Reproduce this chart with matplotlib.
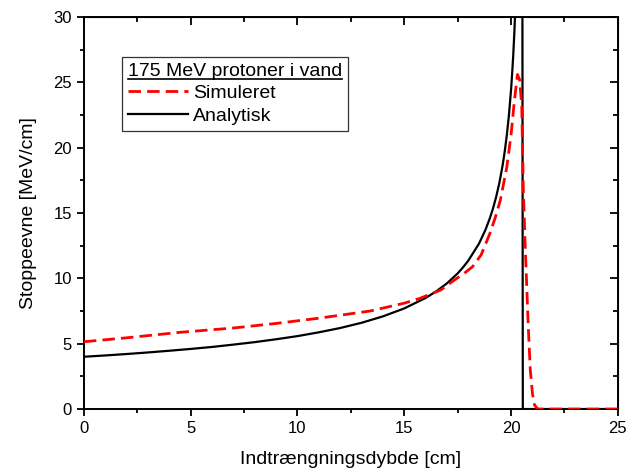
import matplotlib
matplotlib.use("Agg")
import matplotlib.pyplot as plt
from matplotlib.ticker import MultipleLocator
from matplotlib.lines import Line2D

plt.rcParams['font.family'] = ['Liberation Sans', 'DejaVu Sans']

# Simuleret stoppeevne (red dashed)
sim_x = [0, 2, 4.5, 7, 9, 11, 13.4, 15, 15.7, 16.7, 17.2, 17.9, 18.2, 18.6,
         19.0, 19.25, 19.5, 19.8, 20.0, 20.15, 20.3, 20.4, 20.5, 20.57, 20.65,
         20.72, 20.8, 20.9, 21.0, 21.1, 21.25, 25]
sim_y = [5.15, 5.45, 5.87, 6.2, 6.55, 6.95, 7.5, 8.1, 8.45, 9.1, 9.7, 10.5,
         10.9, 11.8, 13.4, 14.6, 16.0, 18.5, 21.0, 23.5, 25.6, 25.2, 23.2,
         17.0, 13.0, 10.0, 6.5, 3.0, 1.2, 0.3, 0.0, 0.0]

# Analytisk stoppeevne (black)
ana_x = [0, 1, 2, 3, 4, 5, 6, 7, 8, 9, 10, 11, 12, 13, 14, 15, 16, 16.5, 17,
         17.5, 17.75, 18, 18.5, 18.8, 19, 19.15, 19.3, 19.45, 19.6, 19.7, 19.8,
         19.9, 20.0, 20.05, 20.1, 20.15, 20.2, 20.25, 20.3, 20.4, 20.5,
         20.55, 25]
ana_y = [4.00, 4.10, 4.21, 4.33, 4.46, 4.60, 4.75, 4.93, 5.12, 5.34, 5.58,
         5.87, 6.20, 6.60, 7.09, 7.70, 8.50, 9.01, 9.62, 10.38, 10.84, 11.36,
         12.66, 13.71, 14.57, 15.32, 16.22, 17.29, 18.60, 19.67, 20.94, 22.49,
         24.45, 25.64, 27.03, 28.67, 30.65, 33.1, 36.26, 46.8, 81.1, 0.0, 0.0]

fig = plt.figure(figsize=(6.26, 4.68), dpi=100)
ax = fig.add_axes([0.134, 0.126, 0.853, 0.8377])

ax.plot(ana_x, ana_y, color='black', lw=1.6, label='Analytisk', zorder=3)
ax.plot(sim_x, sim_y, color='red', lw=2.0, ls=(0, (4.5, 2.2)),
        label='Simuleret', zorder=4)

ax.set_xlim(0, 25)
ax.set_ylim(0, 30)
ax.xaxis.set_major_locator(MultipleLocator(5))
ax.xaxis.set_minor_locator(MultipleLocator(2.5))
ax.yaxis.set_major_locator(MultipleLocator(5))
ax.yaxis.set_minor_locator(MultipleLocator(2.5))
ax.tick_params(which='major', direction='out', length=5, width=1.3,
               labelsize=12, top=False, right=False)
ax.tick_params(which='minor', direction='out', length=3, width=1.3,
               top=False, right=False)
for s in ax.spines.values():
    s.set_linewidth(1.4)

# inward ticks on top and right
top = ax.secondary_xaxis('top')
top.xaxis.set_major_locator(MultipleLocator(5))
top.xaxis.set_minor_locator(MultipleLocator(2.5))
top.tick_params(which='major', direction='in', length=6, width=1.3, labeltop=False)
top.tick_params(which='minor', direction='in', length=3.5, width=1.3)
right = ax.secondary_yaxis('right')
right.yaxis.set_major_locator(MultipleLocator(5))
right.yaxis.set_minor_locator(MultipleLocator(2.5))
right.tick_params(which='major', direction='in', length=6, width=1.3, labelright=False)
right.tick_params(which='minor', direction='in', length=3.5, width=1.3)

ax.set_xlabel('Indtrængningsdybde [cm]', fontsize=14, labelpad=11)
ax.set_ylabel('Stoppeevne [MeV/cm]', fontsize=14, labelpad=12)

handles, labels = ax.get_legend_handles_labels()
leg = ax.legend(handles[::-1], labels[::-1], title='175 MeV protoner i vand',
                loc='upper left', bbox_to_anchor=(0.071, 0.898),
                borderaxespad=0, fontsize=14, title_fontsize=14,
                alignment='left', frameon=True, fancybox=False,
                handlelength=3.1, handletextpad=0.25, labelspacing=0.25,
                borderpad=0.3)
leg.get_frame().set_edgecolor('black')
leg.get_frame().set_linewidth(0.9)

# underline the legend title
fig.canvas.draw()
bb = leg.get_title().get_window_extent()
inv = fig.transFigure.inverted()
(x0, y0), (x1, _) = inv.transform([[bb.x0, bb.y0], [bb.x1, bb.y0]])
fig.add_artist(Line2D([x0, x1], [y0 + 0.002, y0 + 0.002], color='black',
                      lw=1.2, transform=fig.transFigure))

fig.savefig('out.png', dpi=100)
